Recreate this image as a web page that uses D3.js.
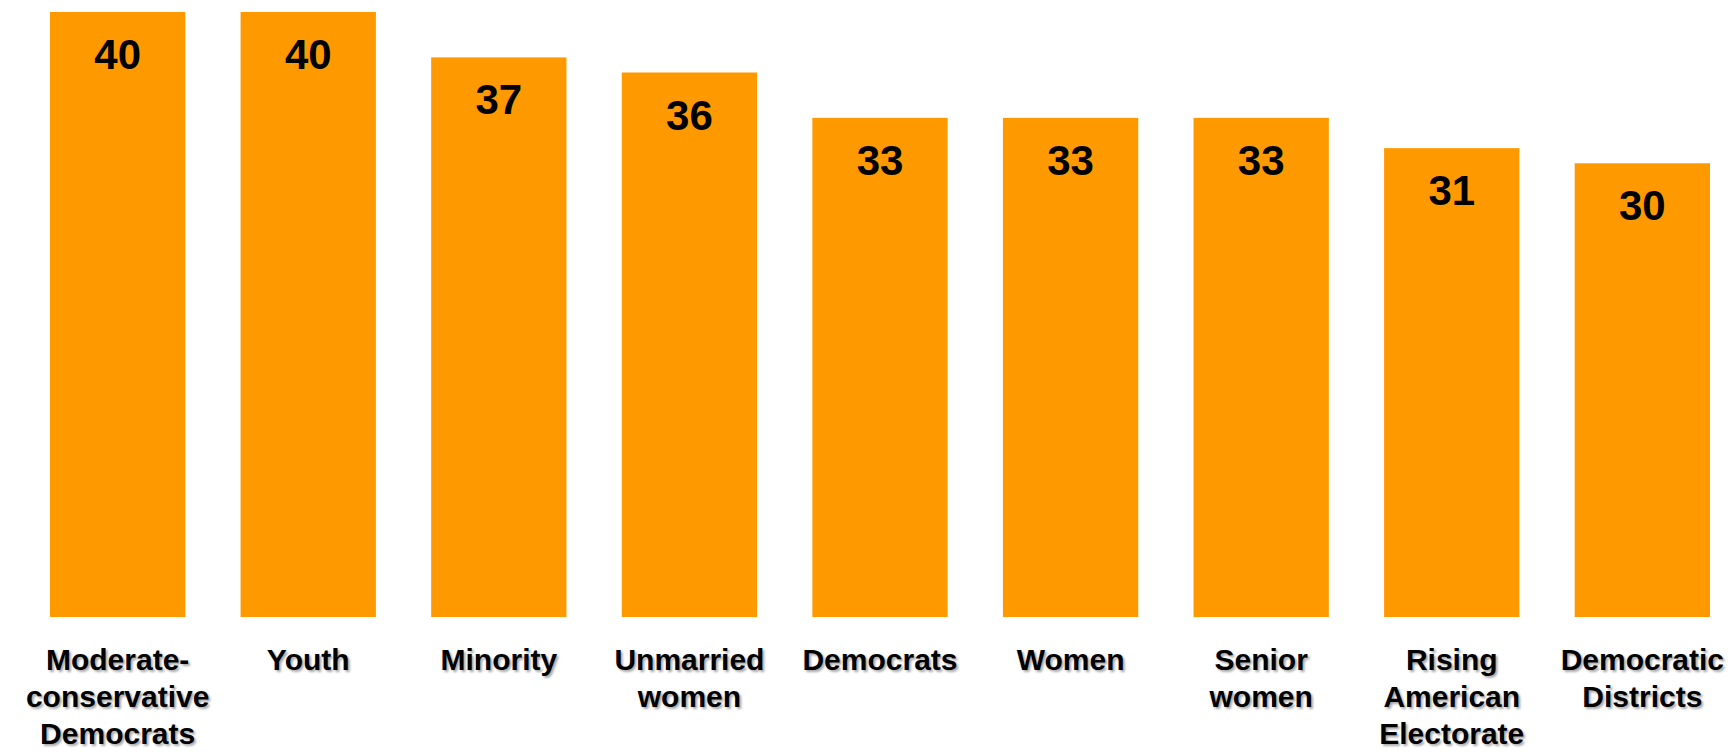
<!DOCTYPE html>
<html><head><meta charset="utf-8">
<script src="https://cdn.jsdelivr.net/npm/d3@7"></script>
<style>html,body{margin:0;padding:0;background:#fff;}svg{display:block;}</style>
</head><body>
<svg id="chart" width="1731" height="753"></svg>
<script>
const categories = [
  ["Moderate-", "conservative", "Democrats"],
  ["Youth"],
  ["Minority"],
  ["Unmarried", "women"],
  ["Democrats"],
  ["Women"],
  ["Senior", "women"],
  ["Rising", "American", "Electorate"],
  ["Democratic", "Districts"]
];
const values = [40, 40, 37, 36, 33, 33, 33, 31, 30];

const svg = d3.select("#chart");
const defs = svg.append("defs");
defs.append("filter").attr("id", "soft").append("feGaussianBlur").attr("stdDeviation", 0.8);

const keys = categories.map((c, i) => i);
const x = d3.scaleBand().domain(keys).range([50, 1710]).paddingInner(0.29).paddingOuter(0);
const y = d3.scaleLinear().domain([0, 40]).range([617, 12]);

svg.append("g").selectAll("rect").data(values).join("rect")
  .attr("x", (d, i) => x(i))
  .attr("y", d => y(d))
  .attr("width", x.bandwidth())
  .attr("height", d => y(0) - y(d))
  .attr("fill", "#FF9900");

svg.append("g").selectAll("text").data(values).join("text")
  .attr("x", (d, i) => x(i) + x.bandwidth() / 2)
  .attr("y", d => y(d) + 57)
  .attr("text-anchor", "middle")
  .attr("font-family", "Liberation Sans, Arial, sans-serif")
  .attr("font-weight", "bold")
  .attr("font-size", 42)
  .attr("fill", "#000")
  .text(d => d);

const lab = svg.append("g");
[{dx: 2, dy: 2, fill: "#a8a8a8", filter: "url(#soft)"}, {dx: 0, dy: 0, fill: "#000", filter: null}].forEach(s => {
  categories.forEach((lines, i) => {
    const cx = x(i) + x.bandwidth() / 2 + s.dx;
    const t = lab.append("text")
      .attr("x", cx)
      .attr("y", 670 + s.dy)
      .attr("text-anchor", "middle")
      .attr("font-family", "Liberation Sans, Arial, sans-serif")
      .attr("font-weight", "bold")
      .attr("font-size", 30)
      .attr("fill", s.fill)
      .attr("filter", s.filter);
    lines.forEach((l, j) => {
      t.append("tspan").attr("x", cx).attr("dy", j === 0 ? 0 : 37).text(l);
    });
  });
});
</script>
</body></html>
